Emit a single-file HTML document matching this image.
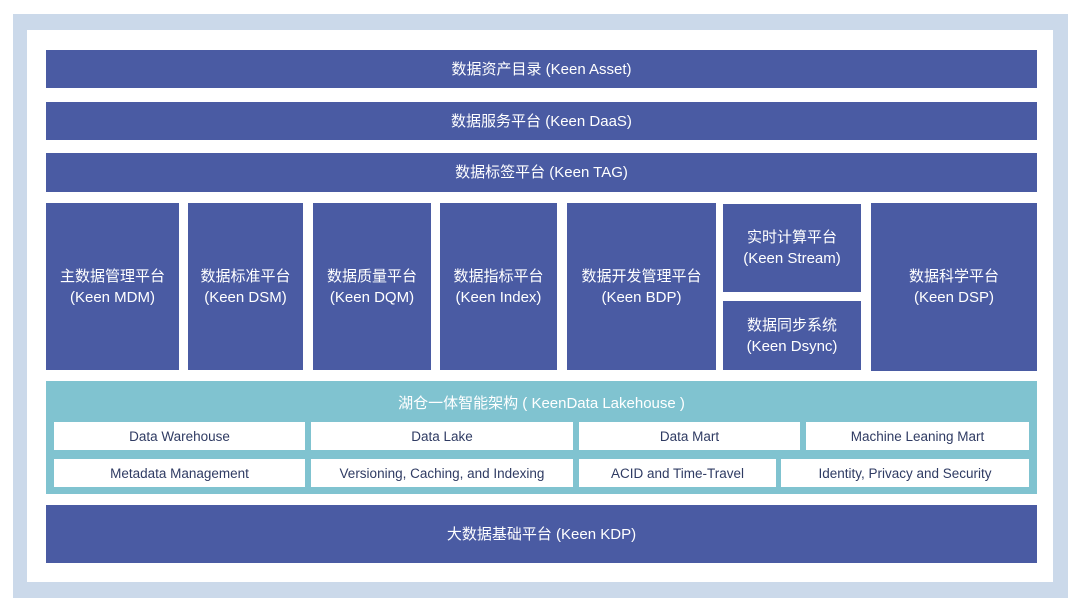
<!DOCTYPE html>
<html><head><meta charset="utf-8"><style>
body{margin:0;width:1080px;height:612px;background:#fff;position:relative;overflow:hidden;font-family:"Liberation Sans","Noto Sans CJK SC",sans-serif}
div{position:absolute;box-sizing:border-box}
.b{background:#4a5ba3;color:#fff;font-size:15px;display:flex;align-items:center;justify-content:center;text-align:center;line-height:21px}
.c{background:#fff;color:#2f3b63;font-size:13.5px;display:flex;align-items:center;justify-content:center}
</style></head><body>
<div style="left:13px;top:14px;width:1055px;height:584px;background:#cbd9ea"></div>
<div style="left:27px;top:30px;width:1026px;height:552px;background:#fff"></div>
<div class="b" style="left:46px;top:50px;width:991px;height:38px">数据资产目录 (Keen Asset)</div>
<div class="b" style="left:46px;top:102px;width:991px;height:38px">数据服务平台 (Keen DaaS)</div>
<div class="b" style="left:46px;top:153px;width:991px;height:39px">数据标签平台 (Keen TAG)</div>
<div class="b" style="left:46px;top:203px;width:133px;height:167px">主数据管理平台<br>(Keen MDM)</div>
<div class="b" style="left:188px;top:203px;width:115px;height:167px">数据标准平台<br>(Keen DSM)</div>
<div class="b" style="left:313px;top:203px;width:118px;height:167px">数据质量平台<br>(Keen DQM)</div>
<div class="b" style="left:440px;top:203px;width:117px;height:167px">数据指标平台<br>(Keen Index)</div>
<div class="b" style="left:567px;top:203px;width:149px;height:167px">数据开发管理平台<br>(Keen BDP)</div>
<div class="b" style="left:723px;top:204px;width:138px;height:88px">实时计算平台<br>(Keen Stream)</div>
<div class="b" style="left:723px;top:301px;width:138px;height:69px">数据同步系统<br>(Keen Dsync)</div>
<div class="b" style="left:871px;top:203px;width:166px;height:168px">数据科学平台<br>(Keen DSP)</div>
<div style="left:46px;top:381px;width:991px;height:113px;background:#80c3d0"></div>
<div style="left:46px;top:392px;width:991px;height:20px;color:#fff;font-size:15px;text-align:center">湖仓一体智能架构 ( KeenData Lakehouse )</div>
<div class="c" style="left:54px;top:422px;width:251px;height:28px">Data Warehouse</div>
<div class="c" style="left:311px;top:422px;width:262px;height:28px">Data Lake</div>
<div class="c" style="left:579px;top:422px;width:221px;height:28px">Data Mart</div>
<div class="c" style="left:806px;top:422px;width:223px;height:28px">Machine Leaning Mart</div>
<div class="c" style="left:54px;top:459px;width:251px;height:28px">Metadata Management</div>
<div class="c" style="left:311px;top:459px;width:262px;height:28px">Versioning, Caching, and Indexing</div>
<div class="c" style="left:579px;top:459px;width:197px;height:28px">ACID and Time-Travel</div>
<div class="c" style="left:781px;top:459px;width:248px;height:28px">Identity, Privacy and Security</div>
<div class="b" style="left:46px;top:505px;width:991px;height:58px">大数据基础平台 (Keen KDP)</div>
</body></html>
